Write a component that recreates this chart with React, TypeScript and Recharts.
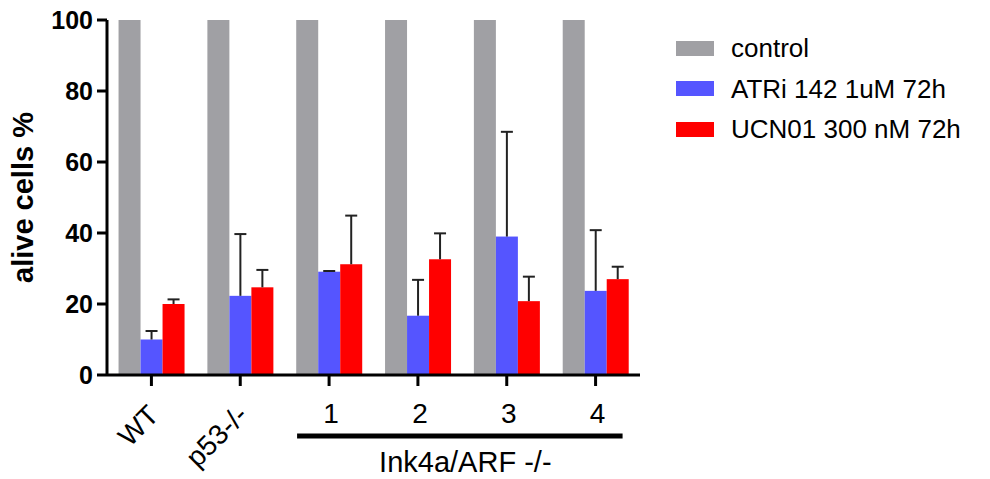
import React from 'react';
import { BarChart, Bar, XAxis, YAxis } from 'recharts';

const categories = ['WT', 'p53-/-', '1', '2', '3', '4'];
const controlValues = [100, 100, 100, 100, 100, 100];
const atriValues = [10.0, 22.3, 29.1, 16.7, 39.0, 23.7];
const atriErrors = [2.4, 17.4, 0.2, 10.1, 29.5, 17.1];
const ucnValues = [20.0, 24.7, 31.2, 32.6, 20.8, 27.0];
const ucnErrors = [1.3, 4.9, 13.7, 7.3, 6.9, 3.5];
const yTicks = [0, 20, 40, 60, 80, 100];

const seriesNames = ['control', 'ATRi 142 1uM 72h', 'UCN01 300 nM 72h'];
const seriesColors = ['#a0a0a4', '#5555ff', '#ff0000'];
const groupLabel = 'Ink4a/ARF -/-';

const data = categories.map((name, i) => ({
  name,
  control: controlValues[i],
  atri: atriValues[i],
  atriErr: atriErrors[i],
  ucn: ucnValues[i],
  ucnErr: ucnErrors[i],
}));

const FONT = '"Liberation Sans", Arial, sans-serif';

// bar rectangle plus an upper-only SD whisker
const makeShape = (key: string, errKey?: string) => (props: any) => {
  const { x, y, width, height, fill, payload } = props;
  const v = payload[key];
  const err = errKey ? payload[errKey] : 0;
  const pxPerUnit = v ? height / v : 0;
  const top = y - err * pxPerUnit;
  const cx = x + width / 2;
  return (
    <g>
      <rect x={x} y={y} width={width} height={height} fill={fill} />
      {errKey && (
        <g stroke="#222" strokeWidth={2}>
          <line x1={cx} y1={y} x2={cx} y2={top} />
          <line x1={cx - 6} y1={top} x2={cx + 6} y2={top} />
        </g>
      )}
    </g>
  );
};

function XTick(props: any) {
  const { x, y, payload } = props;
  const i = payload.index;
  const half = payload.offset || 44.5;
  if (i < 2) {
    return (
      <text
        x={x + 9}
        y={y + 29}
        textAnchor="end"
        transform={`rotate(-45 ${x + 9} ${y + 29})`}
        fontFamily={FONT}
        fontSize={28}
        fill="#000"
      >
        {payload.value}
      </text>
    );
  }
  const last = categories.length - 1;
  return (
    <g>
      <text x={x + 2} y={y + 35} textAnchor="middle" fontFamily={FONT} fontSize={28} fill="#000">
        {payload.value}
      </text>
      {i === 2 && (
        <line
          x1={x - 32}
          y1={y + 48}
          x2={x + (last - 2) * 2 * half + 27}
          y2={y + 48}
          stroke="#000"
          strokeWidth={5}
        />
      )}
      {i === 3 && (
        <text x={x + half + 3} y={y + 84} textAnchor="middle" fontFamily={FONT} fontSize={29} fill="#000">
          {groupLabel}
        </text>
      )}
    </g>
  );
}

function YLabel(props: any) {
  const { viewBox } = props;
  const cx = 23;
  const cy = viewBox.y + viewBox.height / 2;
  return (
    <text
      x={cx}
      y={cy}
      textAnchor="middle"
      dominantBaseline="central"
      transform={`rotate(-90 ${cx} ${cy})`}
      fontFamily={FONT}
      fontWeight="bold"
      fontSize={29}
      fill="#000"
    >
      alive cells %
    </text>
  );
}

export default function App() {
  return (
    <div style={{ position: 'absolute', left: 0, top: 0, width: 990, height: 479, background: '#fff' }}>
      <BarChart
        width={990}
        height={479}
        data={data}
        margin={{ top: 20, right: 350, left: 0, bottom: 0 }}
        barCategoryGap="13%"
        barGap={0}
      >
        <XAxis
          dataKey="name"
          height={104}
          interval={0}
          tickSize={11}
          axisLine={{ stroke: '#000', strokeWidth: 3 }}
          tickLine={{ stroke: '#000', strokeWidth: 3 }}
          tick={<XTick />}
        />
        <YAxis
          width={107}
          domain={[0, 100]}
          ticks={yTicks}
          interval={0}
          tickSize={10}
          tickMargin={4}
          axisLine={{ stroke: '#000', strokeWidth: 3 }}
          tickLine={{ stroke: '#000', strokeWidth: 3 }}
          tick={{ fill: '#000', fontSize: 25, fontWeight: 'bold', fontFamily: FONT }}
          label={<YLabel />}
        />
        <Bar dataKey="control" fill={seriesColors[0]} isAnimationActive={false} shape={makeShape('control')} />
        <Bar dataKey="atri" fill={seriesColors[1]} isAnimationActive={false} shape={makeShape('atri', 'atriErr')} />
        <Bar dataKey="ucn" fill={seriesColors[2]} isAnimationActive={false} shape={makeShape('ucn', 'ucnErr')} />
      </BarChart>
      <div style={{ position: 'absolute', left: 676, top: 28, fontFamily: FONT, fontSize: 26 }}>
        {seriesNames.map((n, i) => (
          <div key={n} style={{ display: 'flex', alignItems: 'center', height: 40.5 }}>
            <div style={{ width: 38, height: 15, background: seriesColors[i], marginRight: 17 }} />
            <span style={{ lineHeight: '26px' }}>{n}</span>
          </div>
        ))}
      </div>
    </div>
  );
}
